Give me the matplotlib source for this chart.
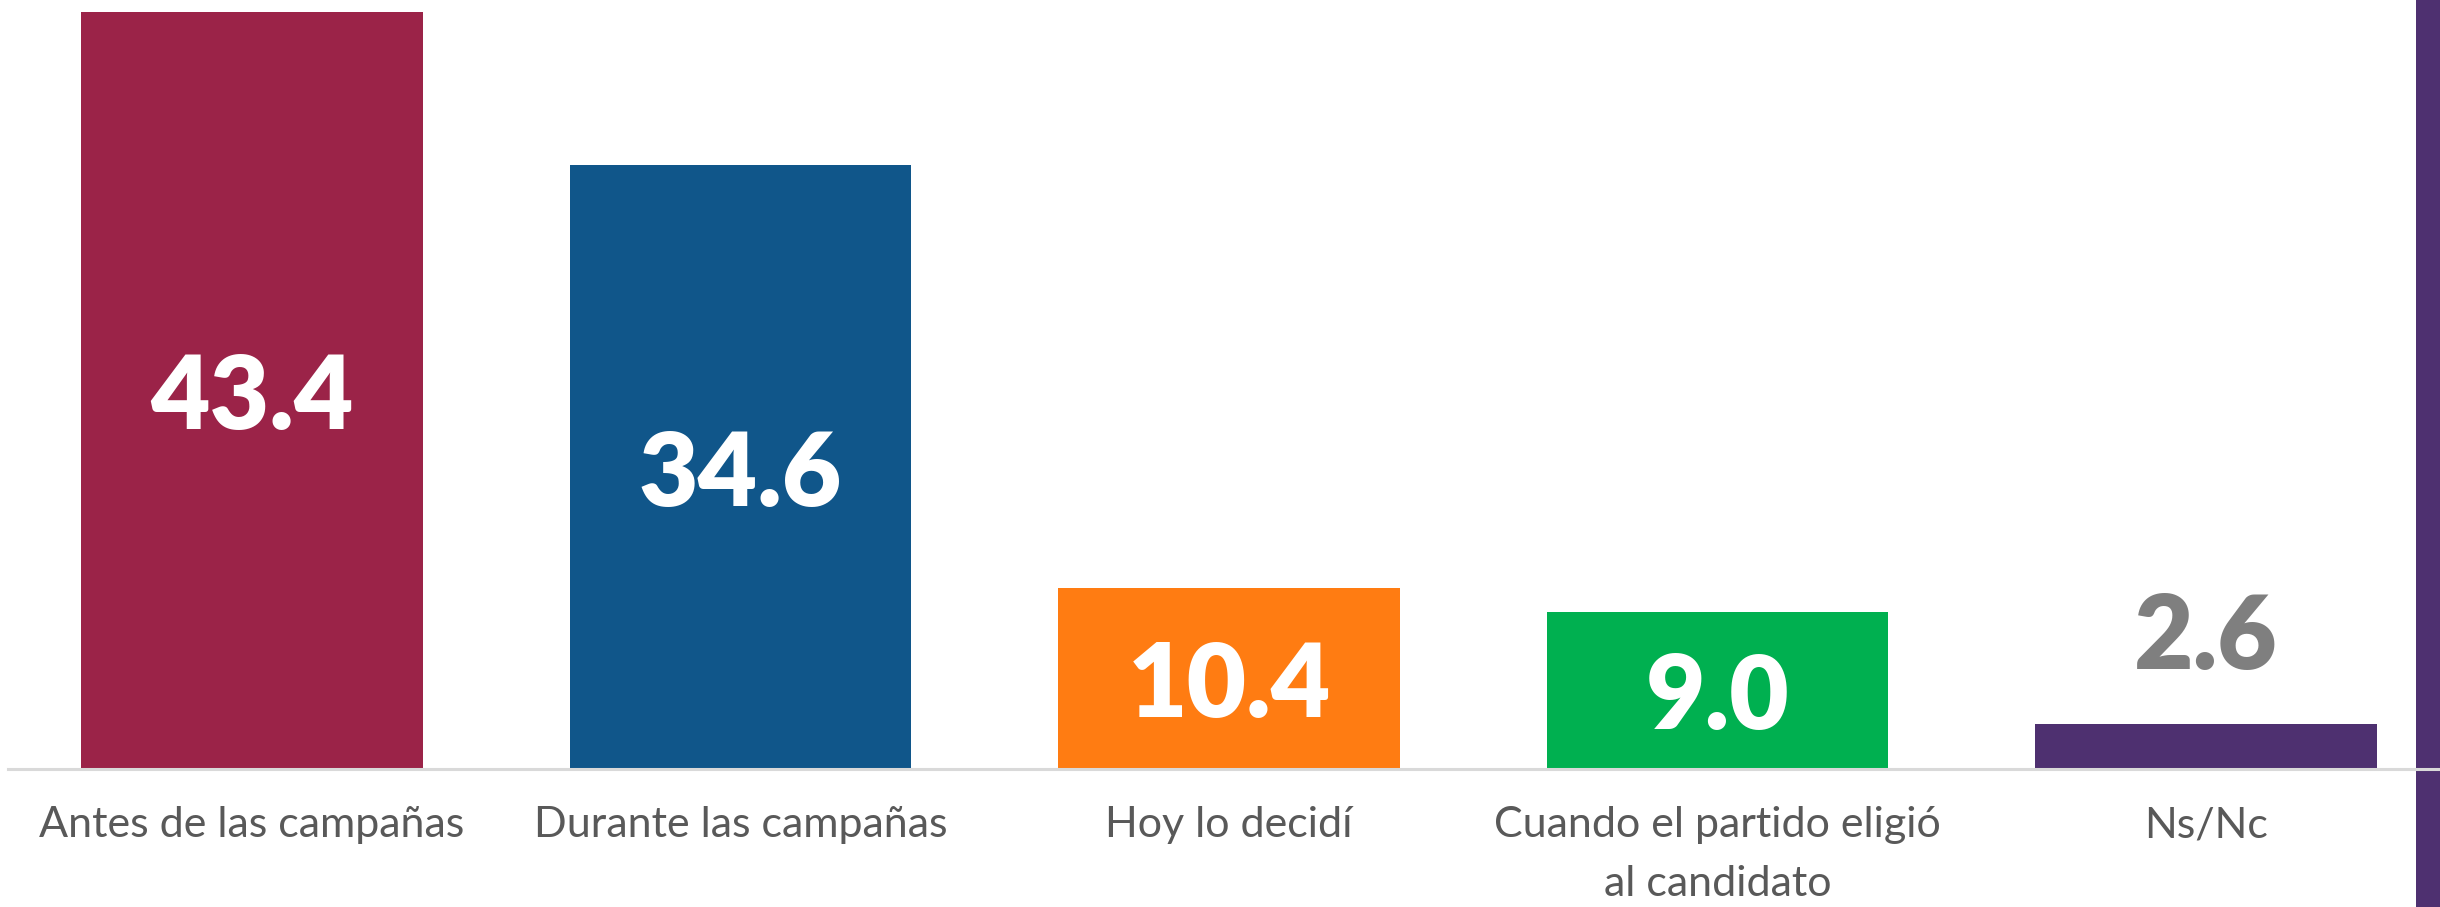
import matplotlib.pyplot as plt
from matplotlib.patches import Rectangle

# data
categories = ["Antes de las campañas", "Durante las campañas", "Hoy lo decidí",
              "Cuando el partido eligió\nal candidato", "Ns/Nc"]
values = [43.4, 34.6, 10.4, 9.0, 2.6]
bar_colors = ["#9B2348", "#10568A", "#FF7C12", "#00B050", "#4E3070"]

plt.rcParams['font.family'] = ['Lato', 'DejaVu Sans']

fig = plt.figure(figsize=(24.4, 9.07), dpi=100)
fig.patch.set_facecolor("white")

# purple strip at right edge
fig.patches.append(Rectangle((2416 / 2440, 0), 24 / 2440, 1, transform=fig.transFigure,
                             facecolor="#4E3070", edgecolor="none", zorder=-1))

ax = fig.add_axes([8 / 2440, 1 - 769 / 907, 1 - 8 / 2440, (769 - 12) / 907])
ax.patch.set_alpha(0)

x = range(len(values))
bars = ax.bar(x, values, width=0.70, color=bar_colors, zorder=2)

ax.set_xlim(-0.4995, 4.479)
ax.set_ylim(0, max(values))

for i, v in enumerate(values):
    if v < 5:
        ax.annotate(f"{v:.1f}", (i, v), xytext=(0, 61), textcoords="offset points",
                    ha="center", va="center", fontsize=74, fontweight="heavy",
                    color="#7F7F7F")
    else:
        ax.annotate(f"{v:.1f}", (i, v / 2), xytext=(0, -6), textcoords="offset points",
                    ha="center", va="center", fontsize=74, fontweight="heavy",
                    color="white", zorder=3)

ax.set_xticks(list(x))
ax.set_xticklabels(categories, fontsize=31, color="#595959", linespacing=1.65)
ax.tick_params(axis="x", length=0, pad=27)
ax.set_yticks([])

for s in ["top", "left", "right"]:
    ax.spines[s].set_visible(False)
ax.spines["bottom"].set_color("#D9D9D9")
ax.spines["bottom"].set_linewidth(2.2)
ax.spines["bottom"].set_zorder(4)

fig.savefig("out.png", dpi=100)
